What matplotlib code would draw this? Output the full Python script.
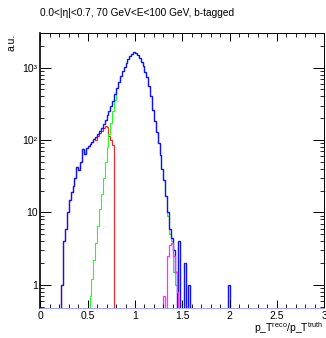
#!/usr/bin/env python3
"""pT response, 0.0<|eta|<0.7, 70-100 GeV, b-tagged jets (ROOT-style log histogram)."""

import numpy as np
import matplotlib
matplotlib.use("Agg")
import matplotlib.pyplot as plt

plt.rcParams["font.family"] = ["Liberation Sans", "DejaVu Sans"]
plt.rcParams["mathtext.fontset"] = "custom"
plt.rcParams["mathtext.rm"] = "Liberation Sans"

BIN_W = 0.02
EDGES = np.linspace(0.0, 3.0, 151)

# blue: all jets (bin low edge of first entry, then counts per 0.02 bin)
blue_start = 0.22
blue_counts = [1, 4, 6, 10, 15, 19, 23, 30, 42, 38,
               50, 75, 65, 78, 82, 88, 95, 102, 110, 122,
               135, 148, 165, 190, 220, 255, 300, 350, 430, 520,
               640, 760, 900, 1030, 1150, 1300, 1430, 1540, 1620, 1580,
               1480, 1380, 1200, 1050, 880, 740, 560, 400, 260, 185,
               130, 90, 62, 40, 28, 17, 10, 6, 4.5, 3,
               1.5]
blue_spike_x = [1.46, 1.52, 1.56, 1.98]
blue_spike_y = [4, 2, 1, 1]

# green
green_start = 0.52
green_counts = [0.7, 1.2, 2.2, 3.8, 6.5, 11, 18, 30, 50, 80,
                120, 170, 250, 360, 520, 640, 760, 900, 1030, 1150,
                1300, 1430, 1540, 1620, 1580, 1480, 1380, 1200, 1050, 880,
                740, 560, 400, 260, 185, 130, 90, 62, 40, 28,
                17, 9, 5, 4, 1.5, 1]

# red
red_start = 0.22
red_counts = [1, 4, 6, 10, 15, 19, 23, 30, 42, 38,
              50, 75, 65, 78, 82, 88, 95, 102, 100, 112,
              125, 135, 148, 155, 150, 115, 100, 85]

# magenta
mag_start = 1.30
mag_counts = [0.7, 0, 2.5, 3.5, 3.8, 2.5, 1.5, 0.8]


def to_hist(start, counts):
    centers = start + BIN_W * (np.arange(len(counts)) + 0.5)
    h, _ = np.histogram(centers, bins=EDGES, weights=counts)
    return h


blue = to_hist(blue_start, blue_counts)
blue += np.histogram(np.array(blue_spike_x) + BIN_W / 2, bins=EDGES, weights=blue_spike_y)[0]
green = to_hist(green_start, green_counts)
red = to_hist(red_start, red_counts)
mag = to_hist(mag_start, mag_counts)

YMIN, YMAX = 0.48, 3000

fig = plt.figure(figsize=(3.26, 3.38), dpi=100)
ax = fig.add_axes([0.124, 0.089, 0.870, 0.813])

floor = 1e-3
ax.stairs(np.clip(red, floor, None), EDGES, color="#ff2020", lw=0.8)
ax.stairs(np.clip(green, floor, None), EDGES, color="#20ff20", lw=0.8)
ax.stairs(np.clip(blue, floor, None), EDGES, color="#1010ff", lw=1.0)
# magenta only drawn over its populated region
sel = (EDGES >= 0.22 - 1e-9) & (EDGES <= 1.46 + 1e-9)
ed_m = EDGES[sel]
ax.stairs(np.clip(mag[sel[:-1] & sel[1:]], floor, None), ed_m, color="#ff30ff", lw=0.9)

ax.set_yscale("log")
ax.set_xlim(0, 3)
ax.set_ylim(YMIN, YMAX)

ax.set_xticks([0, 0.5, 1, 1.5, 2, 2.5, 3])
ax.set_xticklabels(["0", "0.5", "1", "1.5", "2", "2.5", "3"])
ax.set_xticks(np.arange(0, 3.01, 0.1), minor=True)
ax.set_yticks([1, 10, 100, 1000])
ax.set_yticklabels(["1", "10", "10²", "10³"])

ax.tick_params(which="both", direction="in", top=True, right=True, labelsize=7.5, pad=2)
ax.tick_params(which="major", length=6, width=0.7)
ax.tick_params(which="minor", length=3, width=0.6)
ax.tick_params(axis="y", which="major", length=8)

for s in ax.spines.values():
    s.set_linewidth(0.7)
ax.spines["left"].set_linewidth(1.2)
ax.spines["bottom"].set_color("#a0a0ff")

fig.text(0.123, 0.962, "0.0<|η|<0.7, 70 GeV<E<100 GeV, b-tagged",
         ha="left", va="center", fontsize=7.3)
fig.text(0.035, 0.90, "a.u.", rotation=90, ha="center", va="top", fontsize=7.5)
fig.text(0.993, 0.03, r"p_T$^{\mathrm{reco}}$/p_T$^{\mathrm{truth}}$",
         ha="right", va="center", fontsize=7.5)

fig.savefig("out.png", dpi=100)
